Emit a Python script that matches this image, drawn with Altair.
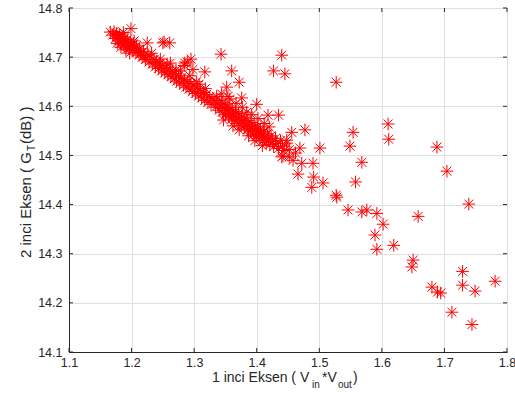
import altair as alt
import pandas as pd

# ---- data (x = V_in*V_out, y = G_T dB) ----
band_x = [1.166, 1.170, 1.172, 1.174, 1.176, 1.178, 1.179, 1.181, 1.182, 1.184,
          1.185, 1.186, 1.188, 1.189, 1.190, 1.192, 1.193, 1.195, 1.196, 1.198,
          1.199, 1.200, 1.202, 1.203, 1.205, 1.207, 1.208, 1.210, 1.212, 1.213,
          1.215, 1.217, 1.219, 1.220, 1.183, 1.191, 1.177, 1.187, 1.197, 1.204,
          1.222, 1.225, 1.226, 1.228, 1.231, 1.233, 1.236, 1.238, 1.240, 1.243,
          1.245, 1.248, 1.250, 1.252, 1.253, 1.255, 1.258, 1.260, 1.261, 1.263,
          1.265, 1.268, 1.270, 1.272, 1.275, 1.277, 1.280, 1.283, 1.285, 1.287,
          1.290, 1.292, 1.295, 1.297, 1.300, 1.302, 1.305, 1.307, 1.310, 1.312,
          1.315, 1.317, 1.320, 1.322, 1.325, 1.327, 1.330, 1.262, 1.278, 1.293,
          1.308, 1.298, 1.289, 1.284, 1.232, 1.246, 1.257, 1.271, 1.304, 1.318,
          1.332, 1.334, 1.336, 1.338, 1.340, 1.341, 1.343, 1.345, 1.346, 1.348,
          1.350, 1.351, 1.353, 1.355, 1.356, 1.358, 1.360, 1.361, 1.363, 1.365,
          1.366, 1.368, 1.370, 1.371, 1.373, 1.375, 1.376, 1.378, 1.380, 1.381,
          1.383, 1.385, 1.386, 1.388, 1.390, 1.391, 1.393, 1.395, 1.396, 1.398,
          1.400, 1.401, 1.403, 1.405, 1.406, 1.408, 1.410, 1.411, 1.413, 1.415,
          1.417, 1.419, 1.421, 1.423, 1.425, 1.427, 1.430, 1.432, 1.435, 1.438,
          1.441, 1.444, 1.448, 1.452, 1.357, 1.367, 1.377, 1.384, 1.392, 1.362,
          1.372, 1.387, 1.397, 1.409, 1.347, 1.402, 1.412, 1.420, 1.344, 1.354,
          1.462, 1.452, 1.466]
band_y = [14.751, 14.745, 14.752, 14.738, 14.748, 14.741, 14.733, 14.746, 14.738, 14.729,
          14.742, 14.734, 14.725, 14.739, 14.731, 14.722, 14.736, 14.727, 14.718, 14.731,
          14.758, 14.722, 14.714, 14.727, 14.719, 14.710, 14.723, 14.713, 14.704, 14.717,
          14.709, 14.700, 14.712, 14.703, 14.720, 14.715, 14.728, 14.750, 14.708, 14.733,
          14.695, 14.729, 14.705, 14.690, 14.700, 14.686, 14.695, 14.680, 14.691, 14.677,
          14.688, 14.672, 14.683, 14.731, 14.668, 14.679, 14.664, 14.675, 14.729, 14.660,
          14.671, 14.656, 14.667, 14.651, 14.662, 14.647, 14.658, 14.643, 14.654, 14.639,
          14.650, 14.635, 14.646, 14.630, 14.641, 14.626, 14.637, 14.621, 14.633, 14.617,
          14.628, 14.612, 14.624, 14.608, 14.619, 14.604, 14.615, 14.688, 14.672, 14.662,
          14.645, 14.675, 14.690, 14.683, 14.708, 14.696, 14.686, 14.674, 14.650, 14.636,
          14.611, 14.598, 14.620, 14.605, 14.592, 14.612, 14.600, 14.588, 14.607, 14.596,
          14.583, 14.603, 14.591, 14.579, 14.598, 14.586, 14.574, 14.594, 14.582, 14.570,
          14.589, 14.577, 14.565, 14.585, 14.573, 14.561, 14.580, 14.568, 14.556, 14.576,
          14.564, 14.552, 14.571, 14.559, 14.548, 14.567, 14.555, 14.543, 14.562, 14.551,
          14.539, 14.558, 14.546, 14.535, 14.553, 14.542, 14.530, 14.549, 14.537, 14.526,
          14.544, 14.533, 14.522, 14.540, 14.528, 14.518, 14.535, 14.524, 14.514, 14.530,
          14.519, 14.510, 14.525, 14.512, 14.615, 14.606, 14.598, 14.588, 14.583, 14.560,
          14.552, 14.540, 14.530, 14.520, 14.572, 14.575, 14.565, 14.558, 14.625, 14.620,
          14.505, 14.497, 14.462]

outlier_x = [1.343, 1.440, 1.427, 1.445, 1.360, 1.372, 1.352, 1.376, 1.400, 1.317,
             1.295, 1.250, 1.527, 1.610, 1.611, 1.688, 1.704, 1.554, 1.549,
             1.568, 1.558, 1.501, 1.435, 1.418, 1.456, 1.477, 1.448, 1.469, 1.440,
             1.472, 1.490, 1.491, 1.488, 1.506, 1.527, 1.739, 1.658, 1.528, 1.546,
             1.568, 1.576, 1.592, 1.602, 1.589, 1.592, 1.619, 1.650, 1.648, 1.680,
             1.689, 1.694, 1.729, 1.729, 1.749, 1.781, 1.712, 1.744, 1.458, 1.442,
             1.285]
outlier_y = [14.706, 14.704, 14.672, 14.666, 14.672, 14.649, 14.639, 14.617, 14.604, 14.670,
             14.696, 14.729, 14.649, 14.564, 14.533, 14.517, 14.468, 14.547, 14.519,
             14.486, 14.446, 14.515, 14.582, 14.582, 14.547, 14.552, 14.531, 14.515, 14.497,
             14.484, 14.484, 14.456, 14.435, 14.444, 14.419, 14.401, 14.376, 14.415, 14.389,
             14.385, 14.389, 14.382, 14.360, 14.338, 14.309, 14.317, 14.287, 14.273, 14.232,
             14.222, 14.220, 14.264, 14.236, 14.224, 14.244, 14.181, 14.156, 14.490, 14.499,
             14.688]

x_ticks = [1.1, 1.2, 1.3, 1.4, 1.5, 1.6, 1.7, 1.8]
y_ticks = [14.1, 14.2, 14.3, 14.4, 14.5, 14.6, 14.7, 14.8]

df = pd.DataFrame({"x": band_x + outlier_x, "y": band_y + outlier_y})
xt = pd.DataFrame({"v": x_ticks})
yt = pd.DataFrame({"v": y_ticks})

W, H = 438, 344
FONT = "Liberation Sans"
INK = "#262626"
ASTERISK = ("M-1,0L1,0M0,-1L0,1M-0.707,-0.707L0.707,0.707"
            "M-0.707,0.707L0.707,-0.707")

xscale = alt.Scale(domain=[1.1, 1.8], nice=False, zero=False)
yscale = alt.Scale(domain=[14.1, 14.8], nice=False, zero=False)

points = alt.Chart(df).mark_point(
    shape=ASTERISK, filled=False, color="#ff0000", strokeWidth=1, size=160, opacity=1
).encode(
    x=alt.X("x:Q", scale=xscale, title=None,
            axis=alt.Axis(values=x_ticks, format=".1f", grid=True, tickSize=0,
                          labelPadding=4, labelFontSize=12.5, labelFont=FONT,
                          labelColor=INK, domainColor=INK, gridColor="#dfdfdf",
                          labelFlush=False)),
    y=alt.Y("y:Q", scale=yscale, title=None,
            axis=alt.Axis(values=y_ticks, format=".1f", grid=True, tickSize=0,
                          labelPadding=7, labelFontSize=12.5, labelFont=FONT,
                          labelColor=INK, domainColor=INK, gridColor="#dfdfdf",
                          labelFlush=False)),
)

tick_len = 4
bx = alt.Chart(xt).mark_rule(color=INK, strokeWidth=1).encode(
    x=alt.X("v:Q", scale=xscale), y=alt.value(H), y2=alt.value(H - tick_len))
tx = alt.Chart(xt).mark_rule(color=INK, strokeWidth=1).encode(
    x=alt.X("v:Q", scale=xscale), y=alt.value(0), y2=alt.value(tick_len))
ly = alt.Chart(yt).mark_rule(color=INK, strokeWidth=1).encode(
    y=alt.Y("v:Q", scale=yscale), x=alt.value(0), x2=alt.value(tick_len))
ry = alt.Chart(yt).mark_rule(color=INK, strokeWidth=1).encode(
    y=alt.Y("v:Q", scale=yscale), x=alt.value(W), x2=alt.value(W - tick_len))


def txt(s, x, y, size, angle=0):
    kw = dict(align="left", baseline="alphabetic", font=FONT, fontSize=size, color=INK)
    if angle:
        kw["angle"] = angle
    return alt.Chart(pd.DataFrame({"t": [s]})).mark_text(**kw).encode(
        x=alt.value(x), y=alt.value(y), text="t:N")


titles = [
    txt("1 inci Eksen ( V", 143, 374, 14),
    txt("in", 243, 380, 10),
    txt("*V", 253, 374, 14),
    txt("out", 269, 380, 10),
    txt(" )", 284, 374, 14),
    txt("2 inci Eksen ( G", -38, 250, 15, 270),
    txt("T", -34, 143, 10, 270),
    txt("(dB) )", -38, 136, 15, 270),
]

chart = alt.layer(points, bx, tx, ly, ry, *titles).properties(
    width=W, height=H,
    autosize=alt.AutoSizeParams(type="none"),
    padding={"left": 69, "top": 8, "right": 8, "bottom": 48},
    background="white",
).configure_view(stroke=INK, strokeWidth=1)

chart.save("out.html", embed_options={"renderer": "svg", "actions": False})
